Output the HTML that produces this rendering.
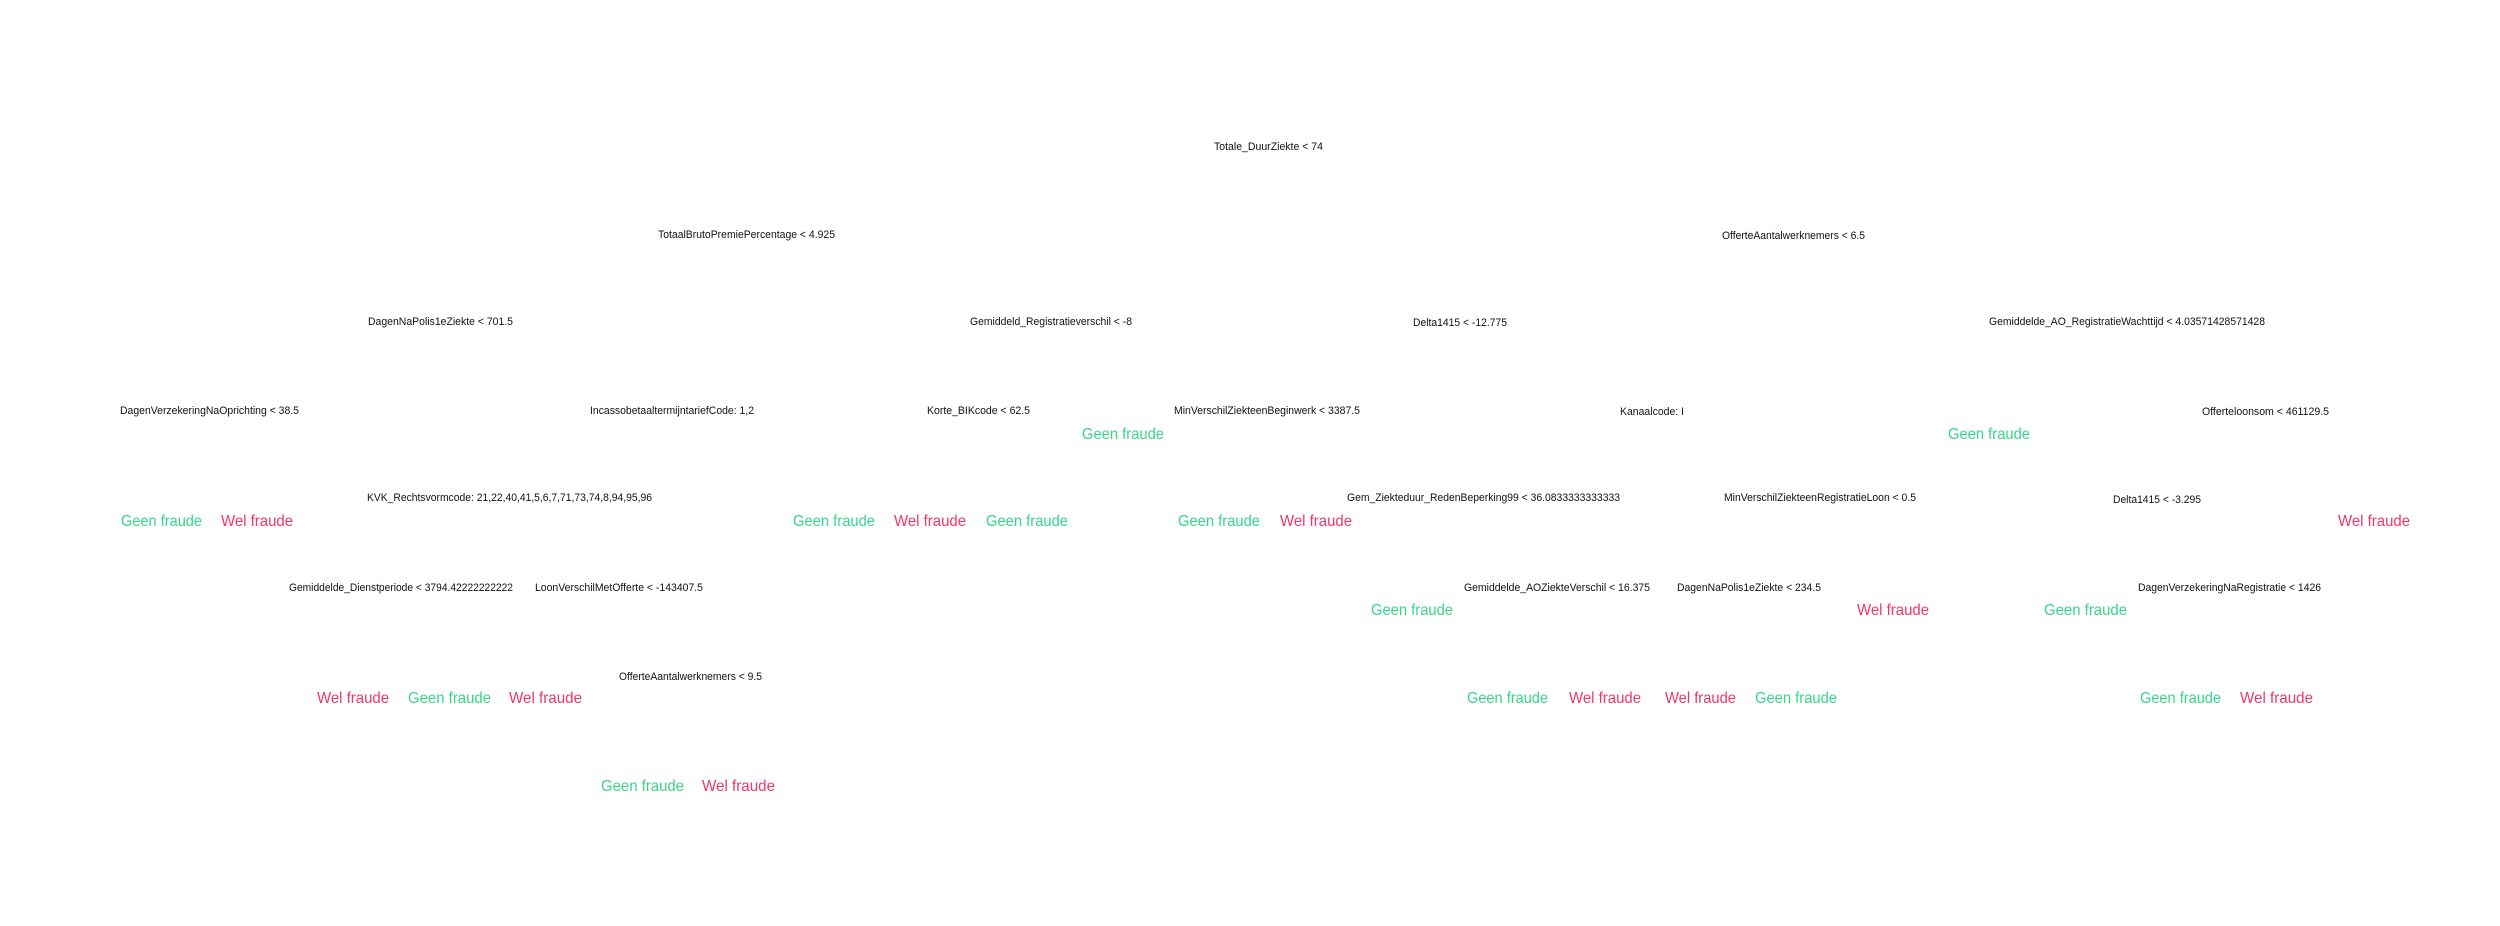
<!DOCTYPE html>
<html><head><meta charset="utf-8"><style>
html,body{margin:0;padding:0;background:#fff;}
svg{display:block;}
.s{font-family:"Liberation Sans",Arial,sans-serif;font-size:11px;fill:#111;}
.g{font-family:"Liberation Sans",Arial,sans-serif;font-size:16px;fill:#36d68a;}
.r{font-family:"Liberation Sans",Arial,sans-serif;font-size:16px;fill:#f0366a;}
</style></head><body>
<svg width="2500" height="926" viewBox="0 0 2500 926" xmlns="http://www.w3.org/2000/svg">
<g lengthAdjust="spacingAndGlyphs">
<text class="s" x="1214" y="150" textLength="109" lengthAdjust="spacingAndGlyphs">Totale_DuurZiekte &lt; 74</text>
<text class="s" x="658" y="238" textLength="177" lengthAdjust="spacingAndGlyphs">TotaalBrutoPremiePercentage &lt; 4.925</text>
<text class="s" x="1722" y="239" textLength="143" lengthAdjust="spacingAndGlyphs">OfferteAantalwerknemers &lt; 6.5</text>
<text class="s" x="368" y="325" textLength="145" lengthAdjust="spacingAndGlyphs">DagenNaPolis1eZiekte &lt; 701.5</text>
<text class="s" x="970" y="325" textLength="162" lengthAdjust="spacingAndGlyphs">Gemiddeld_Registratieverschil &lt; -8</text>
<text class="s" x="1413" y="326" textLength="94" lengthAdjust="spacingAndGlyphs">Delta1415 &lt; -12.775</text>
<text class="s" x="1989" y="325" textLength="276" lengthAdjust="spacingAndGlyphs">Gemiddelde_AO_RegistratieWachttijd &lt; 4.03571428571428</text>
<text class="s" x="120" y="414" textLength="179" lengthAdjust="spacingAndGlyphs">DagenVerzekeringNaOprichting &lt; 38.5</text>
<text class="s" x="590" y="414" textLength="164" lengthAdjust="spacingAndGlyphs">IncassobetaaltermijntariefCode: 1,2</text>
<text class="s" x="927" y="414" textLength="103" lengthAdjust="spacingAndGlyphs">Korte_BIKcode &lt; 62.5</text>
<text class="s" x="1174" y="414" textLength="186" lengthAdjust="spacingAndGlyphs">MinVerschilZiekteenBeginwerk &lt; 3387.5</text>
<text class="s" x="1620" y="415" textLength="64" lengthAdjust="spacingAndGlyphs">Kanaalcode: I</text>
<text class="s" x="2202" y="415" textLength="127" lengthAdjust="spacingAndGlyphs">Offerteloonsom &lt; 461129.5</text>
<text class="g" x="1082" y="439" textLength="82" lengthAdjust="spacingAndGlyphs">Geen fraude</text>
<text class="g" x="1948" y="439" textLength="82" lengthAdjust="spacingAndGlyphs">Geen fraude</text>
<text class="s" x="367" y="501" textLength="285" lengthAdjust="spacingAndGlyphs">KVK_Rechtsvormcode: 21,22,40,41,5,6,7,71,73,74,8,94,95,96</text>
<text class="s" x="1347" y="501" textLength="273" lengthAdjust="spacingAndGlyphs">Gem_Ziekteduur_RedenBeperking99 &lt; 36.0833333333333</text>
<text class="s" x="1724" y="501" textLength="192" lengthAdjust="spacingAndGlyphs">MinVerschilZiekteenRegistratieLoon &lt; 0.5</text>
<text class="s" x="2113" y="503" textLength="88" lengthAdjust="spacingAndGlyphs">Delta1415 &lt; -3.295</text>
<text class="g" x="121" y="526" textLength="81" lengthAdjust="spacingAndGlyphs">Geen fraude</text>
<text class="r" x="221" y="526" textLength="72" lengthAdjust="spacingAndGlyphs">Wel fraude</text>
<text class="g" x="793" y="526" textLength="82" lengthAdjust="spacingAndGlyphs">Geen fraude</text>
<text class="r" x="894" y="526" textLength="72" lengthAdjust="spacingAndGlyphs">Wel fraude</text>
<text class="g" x="986" y="526" textLength="82" lengthAdjust="spacingAndGlyphs">Geen fraude</text>
<text class="g" x="1178" y="526" textLength="82" lengthAdjust="spacingAndGlyphs">Geen fraude</text>
<text class="r" x="1280" y="526" textLength="72" lengthAdjust="spacingAndGlyphs">Wel fraude</text>
<text class="r" x="2338" y="526" textLength="72" lengthAdjust="spacingAndGlyphs">Wel fraude</text>
<text class="s" x="289" y="591" textLength="224" lengthAdjust="spacingAndGlyphs">Gemiddelde_Dienstperiode &lt; 3794.42222222222</text>
<text class="s" x="535" y="591" textLength="168" lengthAdjust="spacingAndGlyphs">LoonVerschilMetOfferte &lt; -143407.5</text>
<text class="s" x="1464" y="591" textLength="186" lengthAdjust="spacingAndGlyphs">Gemiddelde_AOZiekteVerschil &lt; 16.375</text>
<text class="s" x="1677" y="591" textLength="144" lengthAdjust="spacingAndGlyphs">DagenNaPolis1eZiekte &lt; 234.5</text>
<text class="s" x="2138" y="591" textLength="183" lengthAdjust="spacingAndGlyphs">DagenVerzekeringNaRegistratie &lt; 1426</text>
<text class="g" x="1371" y="615" textLength="82" lengthAdjust="spacingAndGlyphs">Geen fraude</text>
<text class="r" x="1857" y="615" textLength="72" lengthAdjust="spacingAndGlyphs">Wel fraude</text>
<text class="g" x="2044" y="615" textLength="83" lengthAdjust="spacingAndGlyphs">Geen fraude</text>
<text class="s" x="619" y="680" textLength="143" lengthAdjust="spacingAndGlyphs">OfferteAantalwerknemers &lt; 9.5</text>
<text class="r" x="317" y="703" textLength="72" lengthAdjust="spacingAndGlyphs">Wel fraude</text>
<text class="g" x="408" y="703" textLength="83" lengthAdjust="spacingAndGlyphs">Geen fraude</text>
<text class="r" x="509" y="703" textLength="73" lengthAdjust="spacingAndGlyphs">Wel fraude</text>
<text class="g" x="1467" y="703" textLength="81" lengthAdjust="spacingAndGlyphs">Geen fraude</text>
<text class="r" x="1569" y="703" textLength="72" lengthAdjust="spacingAndGlyphs">Wel fraude</text>
<text class="r" x="1665" y="703" textLength="71" lengthAdjust="spacingAndGlyphs">Wel fraude</text>
<text class="g" x="1755" y="703" textLength="82" lengthAdjust="spacingAndGlyphs">Geen fraude</text>
<text class="g" x="2140" y="703" textLength="81" lengthAdjust="spacingAndGlyphs">Geen fraude</text>
<text class="r" x="2240" y="703" textLength="73" lengthAdjust="spacingAndGlyphs">Wel fraude</text>
<text class="g" x="601" y="791" textLength="83" lengthAdjust="spacingAndGlyphs">Geen fraude</text>
<text class="r" x="702" y="791" textLength="73" lengthAdjust="spacingAndGlyphs">Wel fraude</text>
</g>
</svg>
</body></html>
